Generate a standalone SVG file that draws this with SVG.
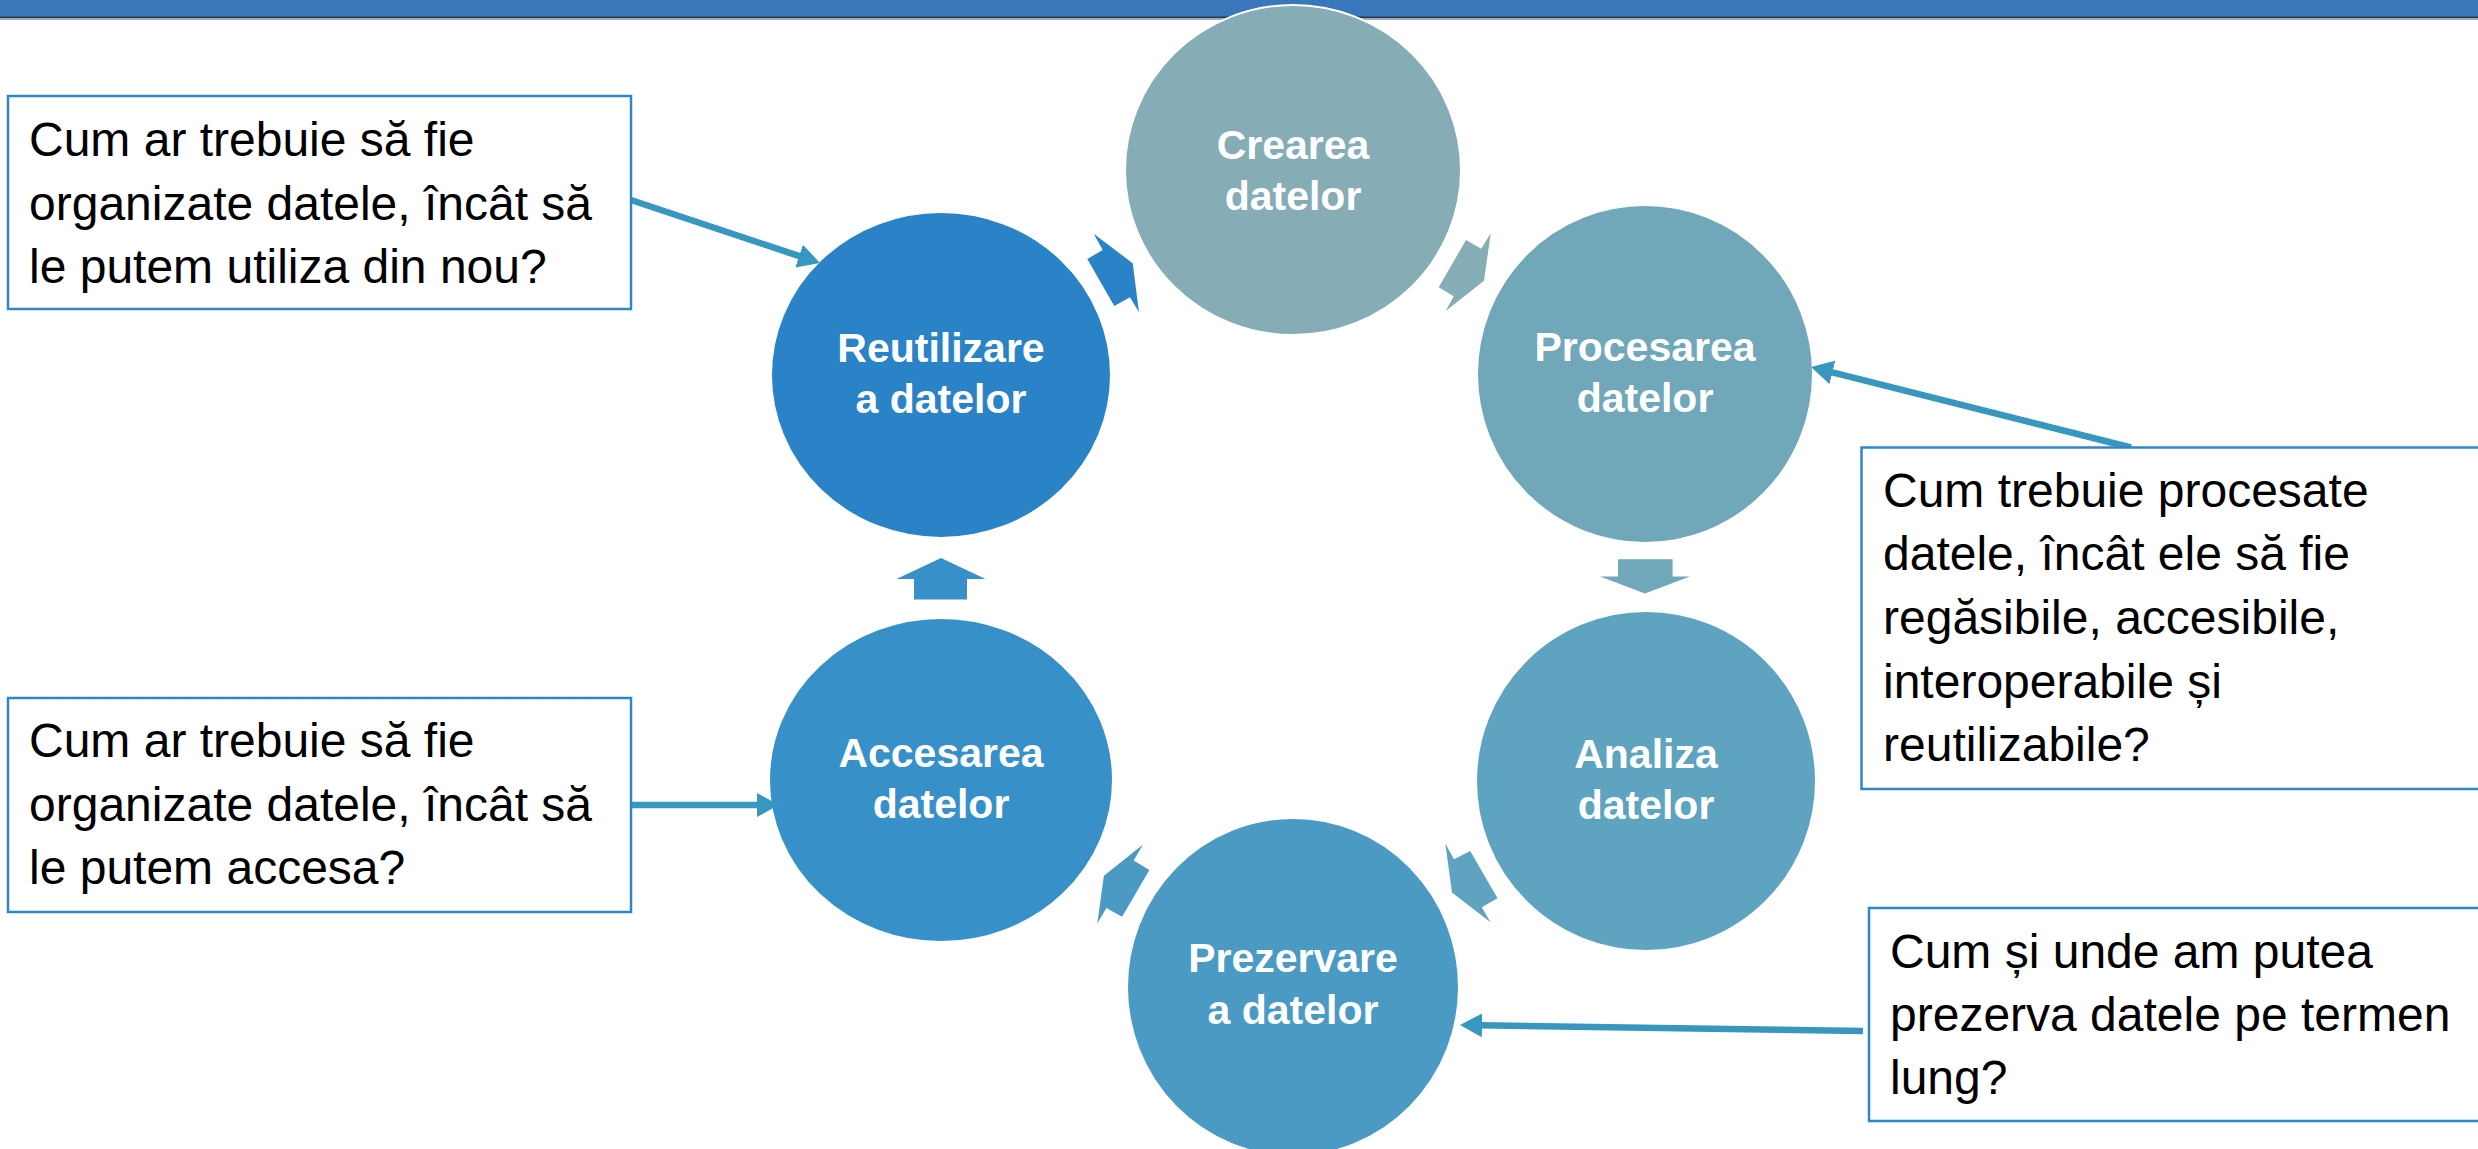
<svg xmlns="http://www.w3.org/2000/svg" width="2478" height="1149" viewBox="0 0 2478 1149">
<style>
.node{stroke:#ffffff;stroke-width:2}
.lbl{font-family:"Liberation Sans",Arial,sans-serif;font-weight:bold;font-size:41px;fill:#ffffff;text-anchor:middle}
.box{fill:#ffffff;stroke:#2F86C8;stroke-width:2.5}
.q{font-family:"Liberation Sans",Arial,sans-serif;font-size:48px;fill:#000000}
.conn{stroke:#3797BF;stroke-width:6.5;fill:none;marker-end:url(#ah)}
</style>
<defs>
<marker id="ah" markerUnits="userSpaceOnUse" markerWidth="24" markerHeight="26" viewBox="0 -13 24 26" refX="2" refY="0" orient="auto">
<path d="M0,-12 L22,0 L0,12 z" fill="#3797BF"/>
</marker>
</defs>
<rect width="2478" height="1149" fill="#ffffff"/>
<g id="header">
<rect x="0" y="0" width="2478" height="17" fill="#3A76BA"/>
<rect x="0" y="16.5" width="2478" height="2" fill="#2B3A50"/>
<rect x="0" y="18.5" width="2478" height="1.5" fill="#A6ADB5"/>
</g>
<g id="node-crearea">
<ellipse class="node" cx="1293" cy="170" rx="168" ry="165" fill="#86ACB5"/>
<text class="lbl" x="1293" y="159">Crearea</text>
<text class="lbl" x="1293" y="210">datelor</text>
</g>
<g id="node-procesarea">
<ellipse class="node" cx="1645" cy="374" rx="168" ry="169" fill="#70A8BA"/>
<text class="lbl" x="1645" y="361">Procesarea</text>
<text class="lbl" x="1645" y="412">datelor</text>
</g>
<g id="node-analiza">
<ellipse class="node" cx="1646" cy="781" rx="170" ry="170" fill="#5EA3C0"/>
<text class="lbl" x="1646" y="768">Analiza</text>
<text class="lbl" x="1646" y="819">datelor</text>
</g>
<g id="node-prezervare">
<ellipse class="node" cx="1293" cy="987" rx="166" ry="169" fill="#4A9AC4"/>
<text class="lbl" x="1293" y="972">Prezervare</text>
<text class="lbl" x="1293" y="1024">a datelor</text>
</g>
<g id="node-accesarea">
<ellipse class="node" cx="941" cy="780" rx="172" ry="162" fill="#3890C8"/>
<text class="lbl" x="941" y="767">Accesarea</text>
<text class="lbl" x="941" y="818">datelor</text>
</g>
<g id="node-reutilizare">
<ellipse class="node" cx="941" cy="375" rx="170" ry="163" fill="#2983C6"/>
<text class="lbl" x="941" y="362">Reutilizare</text>
<text class="lbl" x="941" y="413">a datelor</text>
</g>
<g id="cycle-arrows">
<polygon fill="#2983C6" points="1093.7,233.7 1102.7,250 1087.3,259 1114.3,306 1130,297.3 1139,312.3 1132.7,263.3"/>
<polygon fill="#86ACB5" points="1466,240 1481.3,248.7 1490.7,233.3 1484,280.7 1445.7,311 1453.7,296.3 1438.7,287.3"/>
<polygon fill="#70A8BA" points="1618,559.2 1672.6,559.2 1672.6,576.6 1690,576.6 1644.9,593.5 1600.2,576.6 1618,576.6"/>
<polygon fill="#5EA3C0" points="1445.3,843.5 1454,859.3 1470.2,851 1497.5,898.2 1481.8,907.3 1490.5,922.2 1452,892.4"/>
<polygon fill="#4A9AC4" points="1142.8,844.8 1133.7,860.5 1149.4,870 1122.1,916.8 1106.4,908.1 1097.3,923.4 1103.9,875.8"/>
<polygon fill="#3890C8" points="941,558 985.5,579 967,579 967,599.5 914,599.5 914,579 896.5,579"/>
</g>
<g id="connectors">
<line class="conn" x1="631" y1="200" x2="801" y2="256.7"/>
<line class="conn" x1="2131" y1="447.5" x2="1830.4" y2="371.9"/>
<line class="conn" x1="631" y1="805" x2="759" y2="805"/>
<line class="conn" x1="1863" y1="1031" x2="1480" y2="1025.3"/>
</g>
<g id="box-reutilizare">
<rect class="box" x="8" y="96" width="623" height="213"/>
<text class="q" x="29" y="156">Cum ar trebuie să fie</text>
<text class="q" x="29" y="219.5">organizate datele, încât să</text>
<text class="q" x="29" y="283">le putem utiliza din nou?</text>
</g>
<g id="box-procesarea">
<rect class="box" x="1861.5" y="447.5" width="700" height="341.5"/>
<text class="q" x="1883" y="507">Cum trebuie procesate</text>
<text class="q" x="1883" y="570">datele, încât ele să fie</text>
<text class="q" x="1883" y="633.5">regăsibile, accesibile,</text>
<text class="q" x="1883" y="697.5">interoperabile și</text>
<text class="q" x="1883" y="761">reutilizabile?</text>
</g>
<g id="box-accesarea">
<rect class="box" x="8" y="698" width="623" height="214"/>
<text class="q" x="29" y="757">Cum ar trebuie să fie</text>
<text class="q" x="29" y="820.5">organizate datele, încât să</text>
<text class="q" x="29" y="884">le putem accesa?</text>
</g>
<g id="box-prezervare">
<rect class="box" x="1869" y="908" width="700" height="213"/>
<text class="q" x="1890" y="967.5">Cum și unde am putea</text>
<text class="q" x="1890" y="1031">prezerva datele pe termen</text>
<text class="q" x="1890" y="1094">lung?</text>
</g>
</svg>
